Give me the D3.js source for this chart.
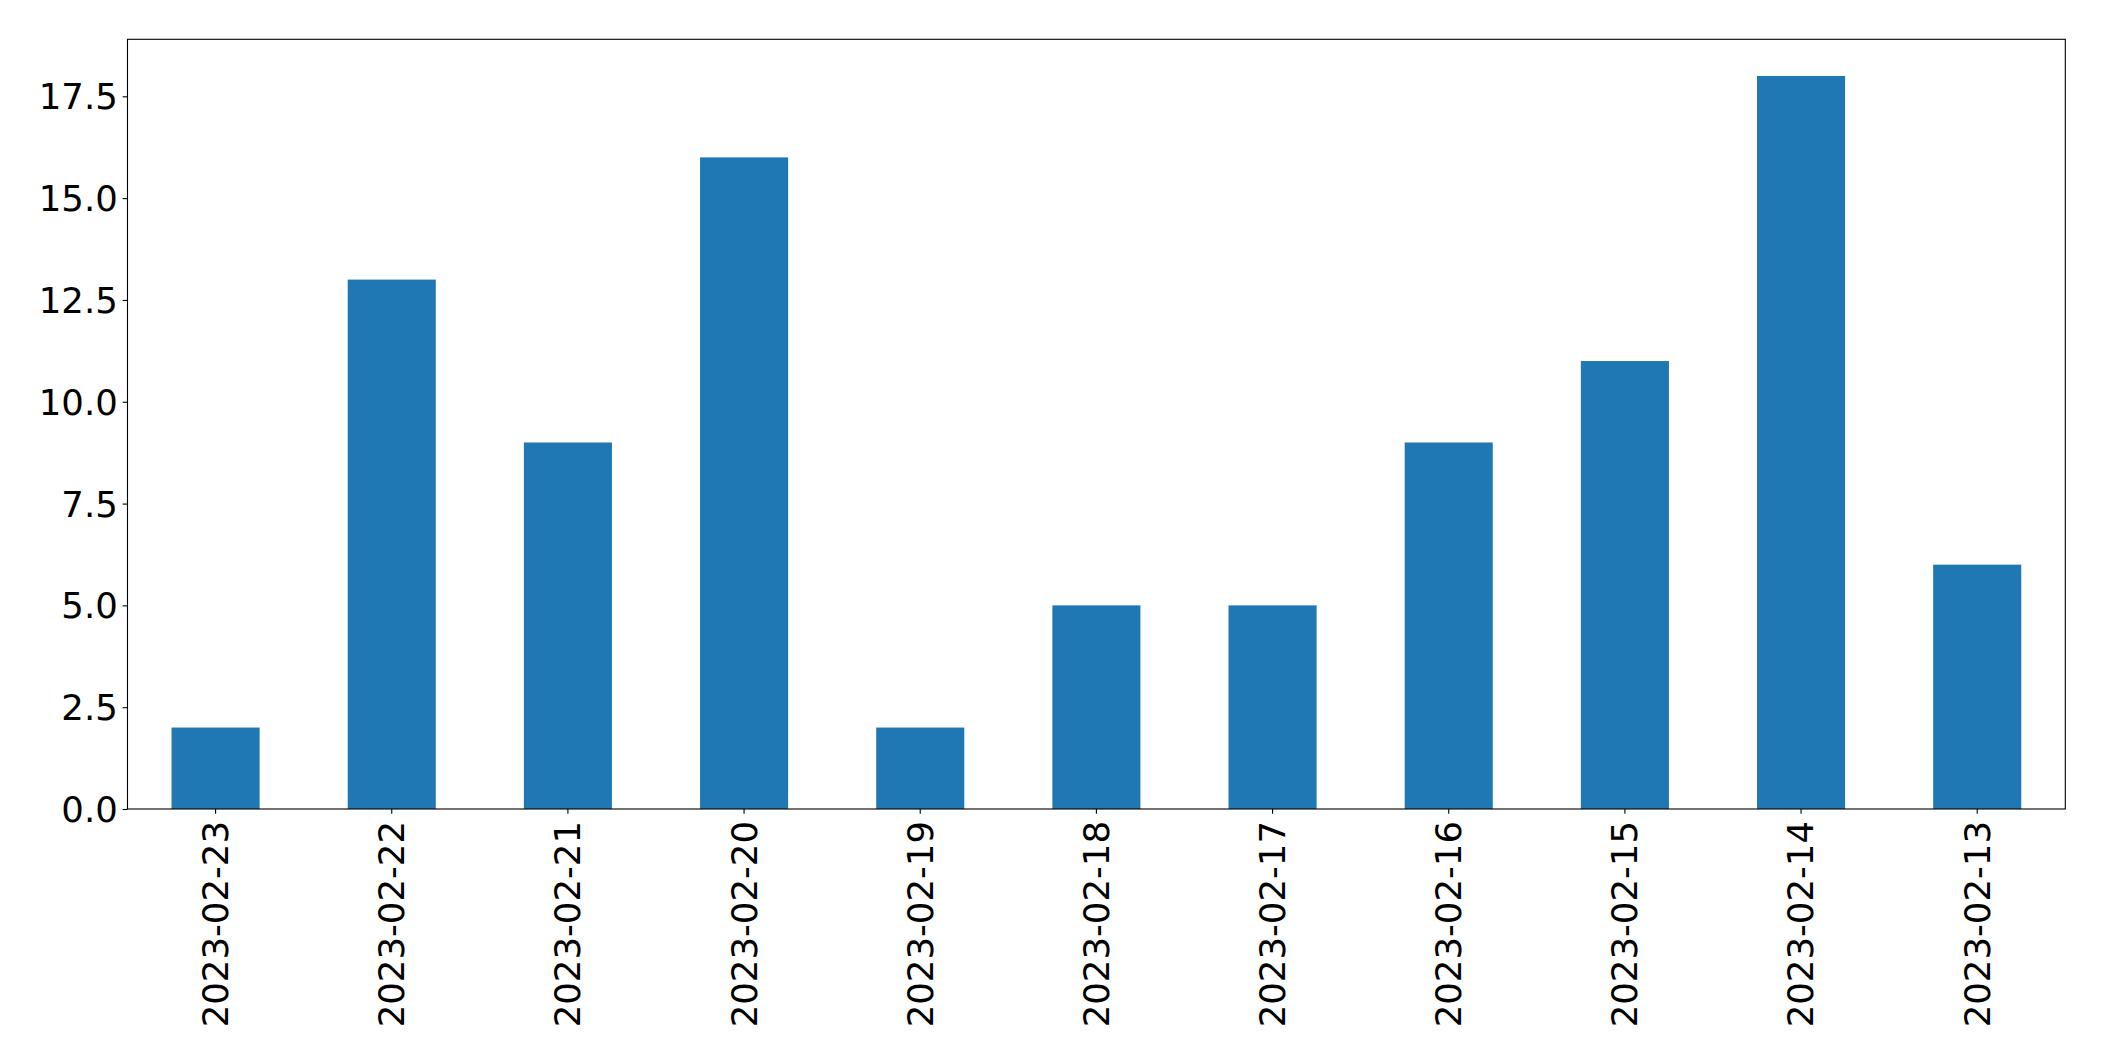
<!DOCTYPE html>
<html><head><meta charset="utf-8">
<script src="https://cdn.jsdelivr.net/npm/d3@7"></script>
<style>body{margin:0;background:#fff}svg{display:block}text{font-family:"DejaVu Sans",sans-serif}</style>
</head><body>
<script>
const categories = ["2023-02-23","2023-02-22","2023-02-21","2023-02-20","2023-02-19","2023-02-18","2023-02-17","2023-02-16","2023-02-15","2023-02-14","2023-02-13"];
const values = [2,13,9,16,2,5,5,9,11,18,6];
const yTicks = [0,2.5,5,7.5,10,12.5,15,17.5];

const W=2104,H=1061;
const m={left:127.5,right:2065.3,top:39.3,bottom:809};
const svg=d3.select("body").append("svg").attr("width",W).attr("height",H);
const x=d3.scaleBand().domain(categories).range([m.left,m.right]).paddingInner(0.5).paddingOuter(0.25);
const y=d3.scaleLinear().domain([0,d3.max(values)*1.05]).range([m.bottom,m.top]);

svg.selectAll("rect.bar").data(values).join("rect").attr("class","bar")
  .attr("x",(d,i)=>x(categories[i])).attr("width",x.bandwidth())
  .attr("y",d=>y(d)).attr("height",d=>y(0)-y(d)).attr("fill","#1f77b4");

const fs=35.5;
const xa=svg.append("g").attr("transform",`translate(0,${m.bottom})`)
  .call(d3.axisBottom(x).tickSize(4.86).tickPadding(4.86));
xa.select(".domain").remove();
xa.selectAll("line").attr("stroke","#000").attr("stroke-width",1.1);
xa.selectAll("text").attr("font-size",fs).attr("fill","#000")
  .attr("transform","rotate(-90)").attr("text-anchor","end")
  .attr("x",-12).attr("y",0).attr("dy","0.35em");

const ya=svg.append("g").attr("transform",`translate(${m.left},0)`)
  .call(d3.axisLeft(y).tickValues(yTicks).tickFormat(d3.format(".1f")).tickSize(4.86).tickPadding(4.86));
ya.select(".domain").remove();
ya.selectAll("line").attr("stroke","#000").attr("stroke-width",1.1);
ya.selectAll("text").attr("font-size",fs).attr("fill","#000").attr("dy","0.35em");

svg.append("rect").attr("x",m.left).attr("y",m.top).attr("width",m.right-m.left).attr("height",m.bottom-m.top)
  .attr("fill","none").attr("stroke","#000").attr("stroke-width",1.1);
</script>
</body></html>
